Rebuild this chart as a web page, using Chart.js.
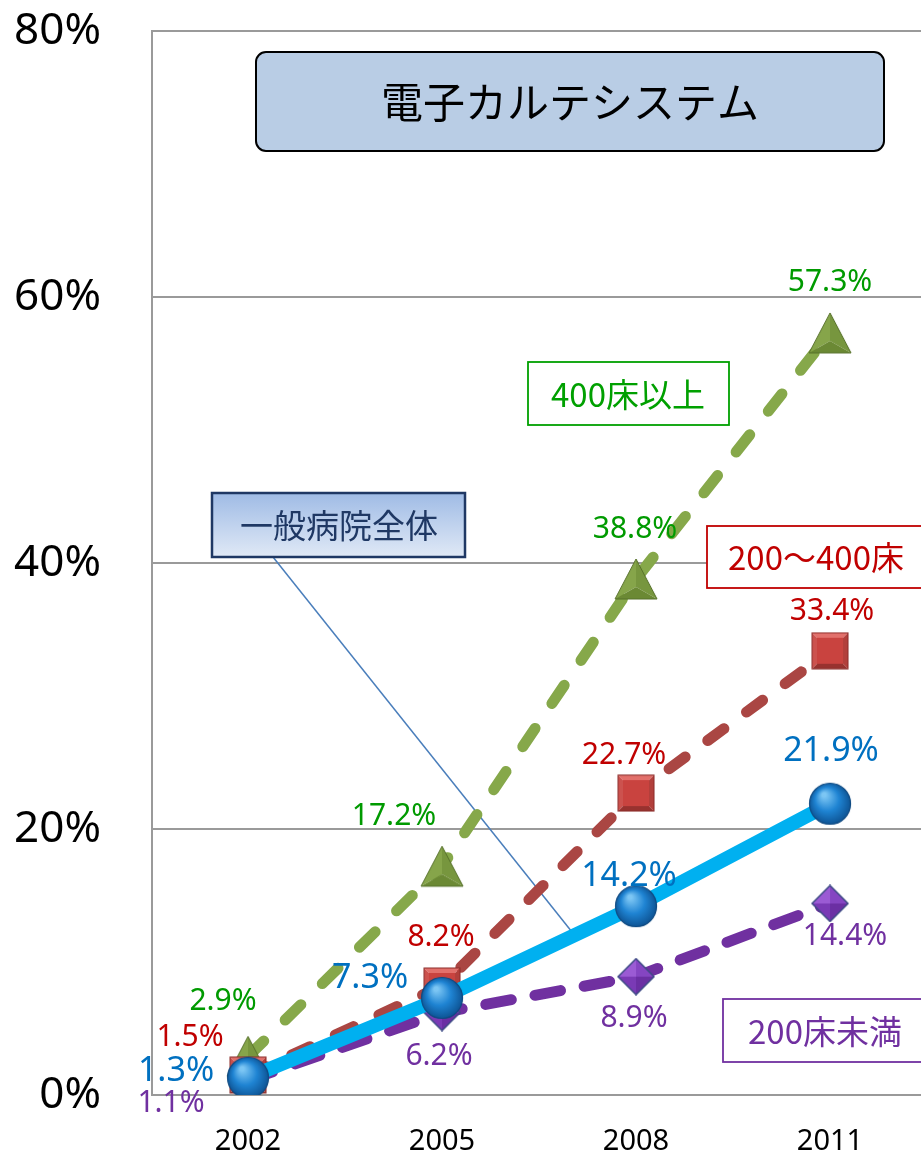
<!DOCTYPE html>
<html>
<head>
<meta charset="UTF-8">
<title>電子カルテシステム</title>
<script src="https://cdn.jsdelivr.net/npm/chart.js@4.4.1/dist/chart.umd.min.js"></script>
<style>
  html, body { margin: 0; padding: 0; background: #fff; }
  #wrap { width: 921px; height: 1157px; }
</style>
</head>
<body>
<div id="wrap"><canvas id="chart" width="921" height="1157"></canvas></div>
<script>
// --- data (%)
const years = [2002, 2005, 2008, 2011];
const yTicks = [0, 20, 40, 60, 80];
const overall = [1.3, 7.3, 14.2, 21.9];        // 一般病院全体
const beds200to400 = [1.5, 8.2, 22.7, 33.4];   // 200〜400床
const bedsUnder200 = [1.1, 6.2, 8.9, 14.4];    // 200床未満
const beds400plus = [2.9, 17.2, 38.8, 57.3];   // 400床以上
const seriesNames = ['一般病院全体', '200〜400床', '200床未満', '400床以上'];
const chartTitle = '電子カルテシステム';

const NUM_FONT = '"Noto Sans", "DejaVu Sans", sans-serif';
const JP_FONT = '"Noto Sans CJK JP", "Noto Sans", sans-serif';

// --- marker images (bevelled look like the office chart)
function makeCanvas(w, h) {
  const c = document.createElement('canvas');
  c.width = w; c.height = h;
  return c;
}
function facet(g, pts, color) {
  g.beginPath();
  g.moveTo(pts[0][0], pts[0][1]);
  for (let i = 1; i < pts.length; i++) g.lineTo(pts[i][0], pts[i][1]);
  g.closePath();
  g.fillStyle = color;
  g.fill();
}
function circleMarker() {
  const c = makeCanvas(44, 44), g = c.getContext('2d');
  const grad = g.createRadialGradient(16, 13, 2, 22, 22, 22);
  grad.addColorStop(0, '#7cc6f4');
  grad.addColorStop(0.5, '#1f84d3');
  grad.addColorStop(1, '#0c4f8e');
  g.beginPath();
  g.arc(22, 22, 20.5, 0, Math.PI * 2);
  g.fillStyle = grad;
  g.fill();
  g.lineWidth = 1.2;
  g.strokeStyle = '#0f4a82';
  g.stroke();
  return c;
}
function triangleMarker() {
  const c = makeCanvas(46, 44), g = c.getContext('2d');
  const A = [23, 2], B = [44, 42], C = [2, 42], M = [23, 30];
  facet(g, [A, M, C], '#86a54a');
  facet(g, [A, B, M], '#77963e');
  facet(g, [C, M, B], '#6b8934');
  g.beginPath();
  g.moveTo(A[0], A[1]); g.lineTo(B[0], B[1]); g.lineTo(C[0], C[1]); g.closePath();
  g.lineWidth = 1;
  g.strokeStyle = '#56702a';
  g.stroke();
  return c;
}
function squareMarker() {
  const c = makeCanvas(38, 38), g = c.getContext('2d');
  const o = 1, e = 37, i = 6, j = 32;
  facet(g, [[o, o], [e, o], [j, i], [i, i]], '#e2706b');
  facet(g, [[o, o], [i, i], [i, j], [o, e]], '#cc524e');
  facet(g, [[e, o], [e, e], [j, j], [j, i]], '#b23f3b');
  facet(g, [[o, e], [i, j], [j, j], [e, e]], '#98322f');
  facet(g, [[i, i], [j, i], [j, j], [i, j]], '#c9433f');
  g.lineWidth = 1;
  g.strokeStyle = '#8b2d2a';
  g.strokeRect(o, o, e - o, e - o);
  return c;
}
function diamondMarker() {
  const c = makeCanvas(38, 38), g = c.getContext('2d');
  const T = [19, 1], R = [37, 19], B = [19, 37], L = [1, 19], C = [19, 19];
  facet(g, [L, T, C], '#9b5bd4');
  facet(g, [T, R, C], '#8545c2');
  facet(g, [R, B, C], '#6b2fa3');
  facet(g, [B, L, C], '#7a3ab5');
  g.beginPath();
  g.moveTo(T[0], T[1]); g.lineTo(R[0], R[1]); g.lineTo(B[0], B[1]); g.lineTo(L[0], L[1]); g.closePath();
  g.lineWidth = 1.5;
  g.strokeStyle = '#3d4a85';
  g.stroke();
  return c;
}

// --- per-series look, label colour and label offset from its point (px)
const seriesStyle = [
  { line: '#00b0f0', width: 14, dash: [], marker: circleMarker(), text: '#0070c0', size: 34,
    offsets: [[-72, -6], [-72, -20], [-7, -30], [1, -52]] },
  { line: '#aa4643', width: 11, dash: [20, 28], marker: squareMarker(), text: '#c00000', size: 30,
    offsets: [[-58, -38], [-1, -48], [-12, -38], [2, -39]] },
  { line: '#7030a0', width: 11, dash: [26, 24], marker: diamondMarker(), text: '#7030a0', size: 30,
    offsets: [[-77, 23], [-3, 44], [-2, 42], [15, 33]] },
  { line: '#86a84a', width: 11, dash: [22, 30], marker: triangleMarker(), text: '#009a00', size: 30,
    offsets: [[-25, -55], [-48, -50], [-1, -50], [0, -50]] }
];
const seriesValues = [overall, beds200to400, bedsUnder200, beds400plus];

const datasets = seriesValues.map((vals, k) => {
  const s = seriesStyle[k];
  return {
    label: seriesNames[k],
    data: years.map((yr, i) => ({ x: yr, y: vals[i] })),
    borderColor: s.line,
    borderWidth: s.width,
    borderDash: s.dash,
    borderCapStyle: s.dash.length ? 'round' : 'butt',
    borderJoinStyle: 'round',
    pointStyle: s.marker,
    pointRadius: 20,
    pointHoverRadius: 20,
    pointBorderWidth: 0,
    fill: false,
    tension: 0
  };
});

function roundRectPath(ctx, x, y, w, h, r) {
  ctx.beginPath();
  ctx.moveTo(x + r, y);
  ctx.lineTo(x + w - r, y);
  ctx.arcTo(x + w, y, x + w, y + r, r);
  ctx.lineTo(x + w, y + h - r);
  ctx.arcTo(x + w, y + h, x + w - r, y + h, r);
  ctx.lineTo(x + r, y + h);
  ctx.arcTo(x, y + h, x, y + h - r, r);
  ctx.lineTo(x, y + r);
  ctx.arcTo(x, y, x + r, y, r);
  ctx.closePath();
}

function labelBox(ctx, x, y, w, h, color) {
  ctx.fillStyle = '#fff';
  ctx.fillRect(x, y, w, h);
  ctx.lineWidth = 1.8;
  ctx.strokeStyle = color;
  ctx.strokeRect(x, y, w, h);
  ctx.fillStyle = color;
  ctx.font = '33px ' + JP_FONT;
  ctx.textAlign = 'center';
  ctx.textBaseline = 'middle';
}

// scale paddings would otherwise shrink the plot area
function noPadding(s) {
  s.paddingTop = 0; s.paddingBottom = 0; s.paddingLeft = 0; s.paddingRight = 0;
}

const overlay = {
  id: 'overlay',
  beforeDatasetsDraw(chart) {
    const ctx = chart.ctx;
    // leader line from the 一般病院全体 callout
    ctx.save();
    ctx.strokeStyle = '#4a7ebb';
    ctx.lineWidth = 1.5;
    ctx.beginPath();
    ctx.moveTo(273, 557);
    ctx.lineTo(572, 932);
    ctx.stroke();
    ctx.restore();
  },
  afterDatasetsDraw(chart) {
    const ctx = chart.ctx;
    ctx.save();

    // title box
    roundRectPath(ctx, 256, 52, 628, 99, 10);
    ctx.fillStyle = '#b9cde5';
    ctx.fill();
    ctx.lineWidth = 2;
    ctx.strokeStyle = '#000';
    ctx.stroke();
    ctx.fillStyle = '#000';
    ctx.font = '42px ' + JP_FONT;
    ctx.textAlign = 'center';
    ctx.textBaseline = 'middle';
    ctx.fillText(chartTitle, 570, 102);

    // 一般病院全体 callout
    const grad = ctx.createLinearGradient(0, 493, 0, 557);
    grad.addColorStop(0, '#9fbbe5');
    grad.addColorStop(1, '#e0e9f6');
    ctx.fillStyle = grad;
    ctx.fillRect(212, 493, 253, 64);
    ctx.lineWidth = 2.5;
    ctx.strokeStyle = '#1f3864';
    ctx.strokeRect(212, 493, 253, 64);
    ctx.fillStyle = '#1f3864';
    ctx.font = '33px ' + JP_FONT;
    ctx.fillText(seriesNames[0], 339, 525);

    // series name boxes
    labelBox(ctx, 528, 362, 201, 63, '#00a000');
    ctx.fillText(seriesNames[3], 628, 394);

    labelBox(ctx, 707, 526, 240, 62, '#c00000');
    ctx.fillText(seriesNames[1], 816, 557);

    labelBox(ctx, 723, 999, 240, 63, '#7030a0');
    ctx.fillText(seriesNames[2], 825, 1031);

    // value labels
    chart.data.datasets.forEach((ds, k) => {
      const meta = chart.getDatasetMeta(k);
      const s = seriesStyle[k];
      ctx.fillStyle = s.text;
      ctx.font = s.size + 'px ' + NUM_FONT;
      meta.data.forEach((pt, i) => {
        const [dx, dy] = s.offsets[i];
        ctx.fillText(seriesValues[k][i].toFixed(1) + '%', pt.x + dx, pt.y + dy);
      });
    });
    ctx.restore();
  }
};

new Chart(document.getElementById('chart'), {
  type: 'line',
  data: { datasets: datasets },
  options: {
    responsive: false,
    animation: false,
    devicePixelRatio: 1,
    layout: { autoPadding: false, padding: { top: 31, right: 0, bottom: 0, left: 0 } },
    plugins: { legend: { display: false }, tooltip: { enabled: false } },
    scales: {
      x: {
        type: 'linear',
        min: 2000.515,
        max: 2012.407,
        afterBuildTicks: s => { s.ticks = years.map(v => ({ value: v })); },
        afterFit: s => { s.height = 62; noPadding(s); },
        grid: { display: false, drawTicks: false },
        border: { display: true, color: '#9a9a9a', width: 2 },
        ticks: {
          color: '#000',
          font: { family: NUM_FONT, size: 29 },
          padding: 29,
          autoSkip: false,
          maxRotation: 0,
          callback: v => String(v)
        }
      },
      y: {
        min: 0,
        max: 80,
        afterBuildTicks: s => { s.ticks = yTicks.map(v => ({ value: v })); },
        afterFit: s => { s.width = 152; noPadding(s); },
        grid: { color: '#9a9a9a', lineWidth: 2, drawTicks: false },
        border: { display: true, color: '#9a9a9a', width: 2 },
        ticks: {
          color: '#000',
          font: { family: NUM_FONT, size: 44 },
          padding: 51,
          callback: v => v + '%'
        }
      }
    }
  },
  plugins: [overlay]
});
</script>
</body>
</html>
